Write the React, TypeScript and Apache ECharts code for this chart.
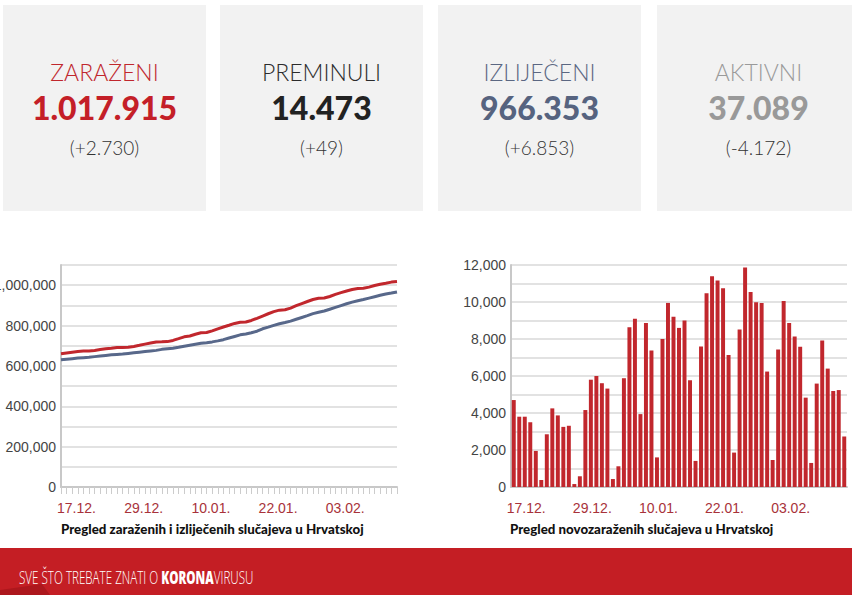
import React, { useEffect, useRef } from 'react';
import * as echarts from 'echarts';

const dates = [
  '17.12.', '18.12.', '19.12.', '20.12.', '21.12.', '22.12.', '23.12.', '24.12.', '25.12.', '26.12.',
  '27.12.', '28.12.', '29.12.', '30.12.', '31.12.', '01.01.', '02.01.', '03.01.', '04.01.', '05.01.',
  '06.01.', '07.01.', '08.01.', '09.01.', '10.01.', '11.01.', '12.01.', '13.01.', '14.01.', '15.01.',
  '16.01.', '17.01.', '18.01.', '19.01.', '20.01.', '21.01.', '22.01.', '23.01.', '24.01.', '25.01.',
  '26.01.', '27.01.', '28.01.', '29.01.', '30.01.', '31.01.', '01.02.', '02.02.', '03.02.', '04.02.',
  '05.02.', '06.02.', '07.02.', '08.02.', '09.02.', '10.02.', '11.02.', '12.02.', '13.02.', '14.02.',
  '15.02.',
];

const dailyCases = [
  4700, 3800, 3800, 3500, 1950, 380, 2850, 4250, 3870, 3250,
  3310, 160, 580, 4160, 5800, 6000, 5610, 5320, 430, 1120,
  5880, 8630, 9100, 3940, 8860, 7380, 1600, 8000, 9950, 9200,
  8600, 9000, 5770, 1410, 7600, 10470, 11390, 11160, 10740, 7140,
  1860, 8520, 11860, 10540, 9980, 9950, 6240, 1460, 7430, 10050,
  8860, 8140, 7580, 4830, 1300, 5590, 7920, 6400, 5190, 5240,
  2730,
];

const totalCases = [
  660285, 664085, 667885, 671385, 673335, 673715, 676565, 680815, 684685, 687935,
  691245, 691405, 691985, 696145, 701945, 707945, 713555, 718875, 719305, 720425,
  726305, 734935, 744035, 747975, 756835, 764215, 765815, 773815, 783765, 792965,
  801565, 810565, 816335, 817745, 825345, 835815, 847205, 858365, 869105, 876245,
  878105, 886625, 898485, 909025, 919005, 928955, 935195, 936655, 944085, 954135,
  962995, 971135, 978715, 983545, 984845, 990435, 998355, 1004755, 1009945, 1015185,
  1017915,
];

const recovered = [
  630000, 633000, 636000, 639000, 641000, 643000, 646000, 649000, 652000, 655000,
  657000, 659000, 662000, 665000, 668000, 671000, 674000, 677000, 682000, 685000,
  688000, 692000, 697000, 702000, 707000, 712000, 715000, 719000, 724000, 730000,
  738000, 746000, 754000, 758000, 764000, 772000, 784000, 792000, 801000, 809000,
  815000, 822000, 831000, 840000, 849000, 859000, 866000, 872000, 881000, 890000,
  899000, 908000, 916000, 923000, 929000, 936000, 943000, 950000, 956000, 961000,
  966353,
];

const cardTitles = ['ZARAŽENI', 'PREMINULI', 'IZLIJEČENI', 'AKTIVNI'];
const cardValues = ['1.017.915', '14.473', '966.353', '37.089'];
const cardChanges = ['(+2.730)', '(+49)', '(+6.853)', '(-4.172)'];
const cardTitleColors = ['#c0272d', '#2b2b2b', '#5b6782', '#9a9a9a'];
const cardValueColors = ['#c41f28', '#222222', '#56637f', '#999999'];

const lineCaption = 'Pregled zaraženih i izliječenih slučajeva u Hrvatskoj';
const barCaption = 'Pregled novozaraženih slučajeva u Hrvatskoj';

export default function App() {
  const ref = useRef<HTMLDivElement>(null);

  useEffect(() => {
    const chart = echarts.init(ref.current!, null, { renderer: 'svg' });

    const cardX = [3, 220, 438, 657];
    const cardW = 203;
    const graphics: any[] = [];
    cardX.forEach((x, i) => {
      const cx = x + cardW / 2;
      graphics.push({ type: 'rect', shape: { x, y: 5, width: cardW, height: 206 }, style: { fill: '#f2f2f2' }, z: -10 });
      graphics.push({
        type: 'text', x: cx, y: 72,
        style: { text: cardTitles[i], fill: cardTitleColors[i], fontFamily: 'Lato', fontWeight: 300, fontSize: 23, align: 'center', verticalAlign: 'middle', textAlign: 'center', textVerticalAlign: 'middle' },
      });
      graphics.push({
        type: 'text', x: cx, y: 107,
        style: { text: cardValues[i], fill: cardValueColors[i], fontFamily: 'Lato', fontWeight: 900, fontSize: 32, align: 'center', verticalAlign: 'middle', textAlign: 'center', textVerticalAlign: 'middle' },
      });
      graphics.push({
        type: 'text', x: cx, y: 147,
        style: { text: cardChanges[i], fill: '#333333', fontFamily: 'Lato', fontWeight: 300, fontSize: 19, align: 'center', verticalAlign: 'middle', textAlign: 'center', textVerticalAlign: 'middle' },
      });
    });

    graphics.push({
      type: 'text', x: 61, y: 529,
      style: { text: lineCaption, fill: '#111111', fontFamily: 'Lato', fontWeight: 900, fontSize: 13.3, align: 'left', verticalAlign: 'middle', textAlign: 'left', textVerticalAlign: 'middle' },
    });
    graphics.push({
      type: 'text', x: 510, y: 529,
      style: { text: barCaption, fill: '#111111', fontFamily: 'Lato', fontWeight: 900, fontSize: 13.3, align: 'left', verticalAlign: 'middle', textAlign: 'left', textVerticalAlign: 'middle' },
    });

    graphics.push({ type: 'rect', shape: { x: 0, y: 548, width: 852, height: 47 }, style: { fill: '#c41e24' } });
    graphics.push({ type: 'polygon', shape: { points: [[0, 590], [42, 584], [50, 595], [0, 595]] }, style: { fill: '#ad171d' } });
    graphics.push({
      type: 'text', x: 19, y: 577, scaleX: 0.665,
      style: {
        text: '{a|SVE ŠTO TREBATE ZNATI O }{b|KORONA}{a|VIRUSU}',
        fill: '#ffffff', align: 'left', verticalAlign: 'middle', textAlign: 'left', textVerticalAlign: 'middle',
        rich: {
          a: { fontFamily: 'Open Sans', fontWeight: 300, fontSize: 17.5, fill: '#ffffff', color: '#ffffff' },
          b: { fontFamily: 'Open Sans', fontWeight: 800, fontSize: 17.5, fill: '#ffffff', color: '#ffffff' },
        },
      },
    });

    const labelInterval = (i: number) => i % 12 === 0 && i < 60;
    const gridLine = { lineStyle: { color: '#d9d9d9', width: 1.5 } };

    const option: any = {
      animation: false,
      backgroundColor: '#ffffff',
      graphic: graphics,
      grid: [
        { left: 61, top: 265, width: 336, height: 222, containLabel: false, outerBoundsMode: 'none' },
        { left: 511, top: 265, width: 336, height: 222, containLabel: false, outerBoundsMode: 'none' },
      ],
      xAxis: [
        {
          type: 'category', gridIndex: 0, data: dates, boundaryGap: false,
          axisLine: { lineStyle: { color: '#c8c8c8', width: 2 } },
          axisTick: { interval: 0, length: 7, lineStyle: { color: '#cccccc' } },
          axisLabel: { interval: labelInterval, color: '#a8323a', fontFamily: 'Liberation Sans, Arial', fontSize: 14, margin: 14, align: 'left', padding: [0, 0, 0, -4] },
          splitLine: { show: false },
        },
        {
          type: 'category', gridIndex: 1, data: dates, boundaryGap: true,
          axisLine: { lineStyle: { color: '#c8c8c8', width: 2 } },
          axisTick: { interval: 0, length: 7, lineStyle: { color: '#cccccc' } },
          axisLabel: { interval: labelInterval, color: '#a8323a', fontFamily: 'Liberation Sans, Arial', fontSize: 14, margin: 14, align: 'left', padding: [0, 0, 0, -7] },
          splitLine: { show: false },
        },
      ],
      yAxis: [
        {
          type: 'value', gridIndex: 0, min: 0, max: 1100000, interval: 100000,
          axisLine: { show: true, lineStyle: { color: '#c8c8c8', width: 2 } },
          axisTick: { show: false },
          axisLabel: {
            color: '#444444', fontFamily: 'Liberation Sans, Arial', fontSize: 14, margin: 5,
            formatter: (v: number) => (v % 200000 === 0 ? v.toLocaleString('en-US') : ''),
          },
          splitLine: gridLine,
        },
        {
          type: 'value', gridIndex: 1, min: 0, max: 12000, interval: 1000,
          axisLine: { show: true, lineStyle: { color: '#c8c8c8', width: 2 } },
          axisTick: { show: false },
          axisLabel: {
            color: '#444444', fontFamily: 'Liberation Sans, Arial', fontSize: 14, margin: 5,
            formatter: (v: number) => (v % 2000 === 0 ? v.toLocaleString('en-US') : ''),
          },
          splitLine: gridLine,
        },
      ],
      series: [
        {
          name: 'Izliječeni', type: 'line', xAxisIndex: 0, yAxisIndex: 0, data: recovered,
          showSymbol: false, symbol: 'none', lineStyle: { color: '#58688a', width: 3 }, itemStyle: { color: '#58688a' },
        },
        {
          name: 'Zaraženi', type: 'line', xAxisIndex: 0, yAxisIndex: 0, data: totalCases,
          showSymbol: false, symbol: 'none', lineStyle: { color: '#c1272d', width: 3 }, itemStyle: { color: '#c1272d' },
        },
        {
          name: 'Novozaraženi', type: 'bar', xAxisIndex: 1, yAxisIndex: 1, data: dailyCases,
          barWidth: '72%', itemStyle: { color: '#c1272d' },
        },
      ],
    };

    chart.setOption(option);
    return () => chart.dispose();
  }, []);

  return (
    <div
      ref={ref}
      style={{ position: 'fixed', left: 0, top: 0, width: 852, height: 595, background: '#ffffff' }}
    />
  );
}
